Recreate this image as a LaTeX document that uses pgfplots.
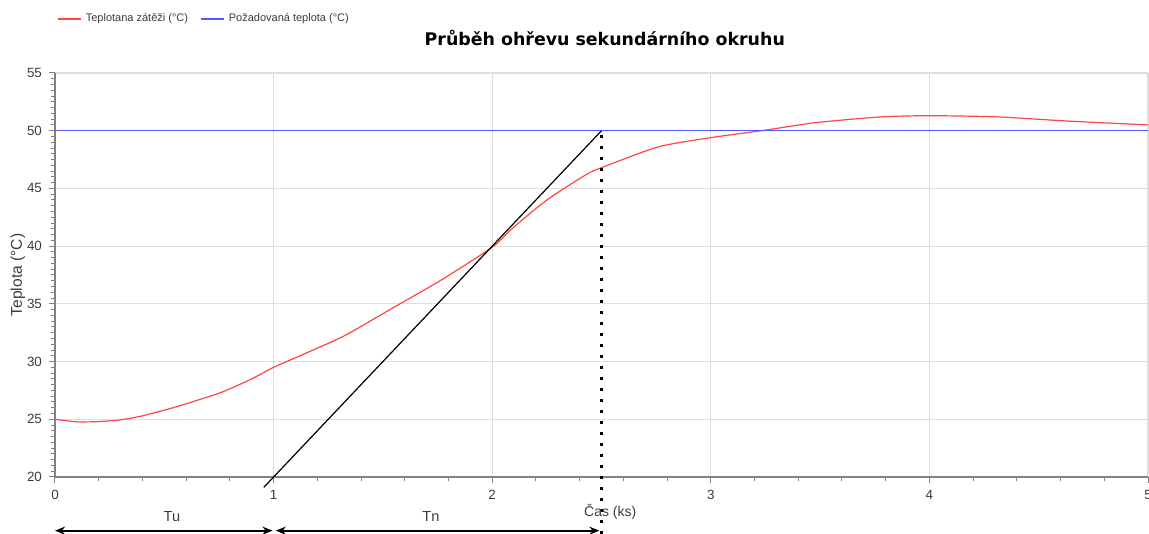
\documentclass[border=0pt]{standalone}
\usepackage{fontspec}
\setmainfont{Liberation Sans}
\newfontfamily\verdana{DejaVu Sans}
\usepackage{pgfplots}
\pgfplotsset{compat=1.18}
\usetikzlibrary{arrows.meta}

\definecolor{curvered}{RGB}{255,70,70}
\definecolor{setblue}{RGB}{85,85,255}
\definecolor{gridgray}{RGB}{222,222,222}
\definecolor{axisgray}{RGB}{130,130,130}
\definecolor{labelgray}{RGB}{60,60,60}

\begin{document}
\begin{tikzpicture}
\begin{axis}[
    scale only axis,
    width=546.5pt, height=202pt,
    xmin=0, xmax=5, ymin=20, ymax=55,
    clip=false,
    axis lines=left,
    axis line style={axisgray, line width=0.6pt, -},
    xtick={0,1,2,3,4,5}, ytick={20,25,...,55},
    minor x tick num=4, minor y tick num=9,
    tick align=outside,
    major tick length=3pt, minor tick length=2pt,
    tick style={axisgray, line width=0.5pt},
    grid=major,
    major grid style={gridgray, line width=0.6pt},
    /pgf/number format/assume math mode=true,
    ticklabel style={font=\fontsize{6.7}{7.5}\selectfont, text=labelgray},
    title={\verdana\bfseries Průběh ohřevu sekundárního okruhu},
    title style={font=\fontsize{8.7}{10}\selectfont, at={(axis description cs:0.503,1.057)}, anchor=center},
    xlabel={Čas (ks)},
    xlabel style={font=\fontsize{7}{8}\selectfont, text=labelgray, at={(axis description cs:0.508,-0.0866)}, anchor=center},
    ylabel={Teplota (°C)},
    ylabel style={font=\fontsize{7.8}{9}\selectfont, text=labelgray, at={(axis description cs:-0.034,0.5)}, anchor=center, rotate=0},
    legend columns=2,
    legend style={at={(axis description cs:-0.004,1.133)}, anchor=west, draw=none, fill=none,
        font=\fontsize{5.5}{6.5}\selectfont,
        nodes={text=labelgray},
        /tikz/every even column/.append style={column sep=4pt}},
    legend image code/.code={\draw[#1, line width=0.9pt] (0pt,0pt) -- (11.5pt,0pt);},
]
\addplot[curvered, line width=0.6pt, smooth, tension=0.4] coordinates {
(0,25.0) (0.1,24.78) (0.2,24.8) (0.3,24.95) (0.4,25.3) (0.54,26.0) (0.66,26.7)
(0.77,27.4) (0.9,28.5) (1.0,29.5) (1.12,30.5) (1.32,32.2) (1.55,34.7) (1.77,37.1)
(2.0,39.9) (2.09,41.5) (2.25,44.0) (2.43,46.2) (2.5,46.8) (2.76,48.6) (3.0,49.4)
(3.25,50.05) (3.48,50.7) (3.78,51.2) (4.0,51.3) (4.31,51.2) (4.62,50.85) (5.0,50.5)
};
\addlegendentry{Teplotana zátěži (°C)}
\addplot[setblue, line width=0.6pt] coordinates {(0,50) (5,50)};
\addlegendentry{Požadovaná teplota (°C)}
% tangent
\addplot[black, line width=0.6pt, forget plot] coordinates {(0.955,19.1) (2.5,50)};
% dotted vertical
\addplot[black, line width=1.1pt, dash pattern=on 1.1pt off 4.4pt, forget plot] coordinates {(2.5,49.6) (2.5,15.1)};
% Tu, Tn arrows
\addplot[black, line width=0.9pt, {Stealth[length=5pt,width=4pt]}-{Stealth[length=5pt,width=4pt]}, forget plot] coordinates {(0,15.35) (0.995,15.35)};
\addplot[black, line width=0.9pt, {Stealth[length=5pt,width=4pt]}-{Stealth[length=5pt,width=4pt]}, forget plot] coordinates {(1.01,15.35) (2.49,15.35)};
\node[font=\fontsize{7.3}{8}\selectfont, text=labelgray] at (axis cs:0.535,16.6) {Tu};
\node[font=\fontsize{7.3}{8}\selectfont, text=labelgray] at (axis cs:1.72,16.6) {Tn};
\end{axis}
\pgfresetboundingbox
\useasboundingbox (-27.5pt,-28.5pt) rectangle (547pt,238.5pt);
\end{tikzpicture}
\end{document}
